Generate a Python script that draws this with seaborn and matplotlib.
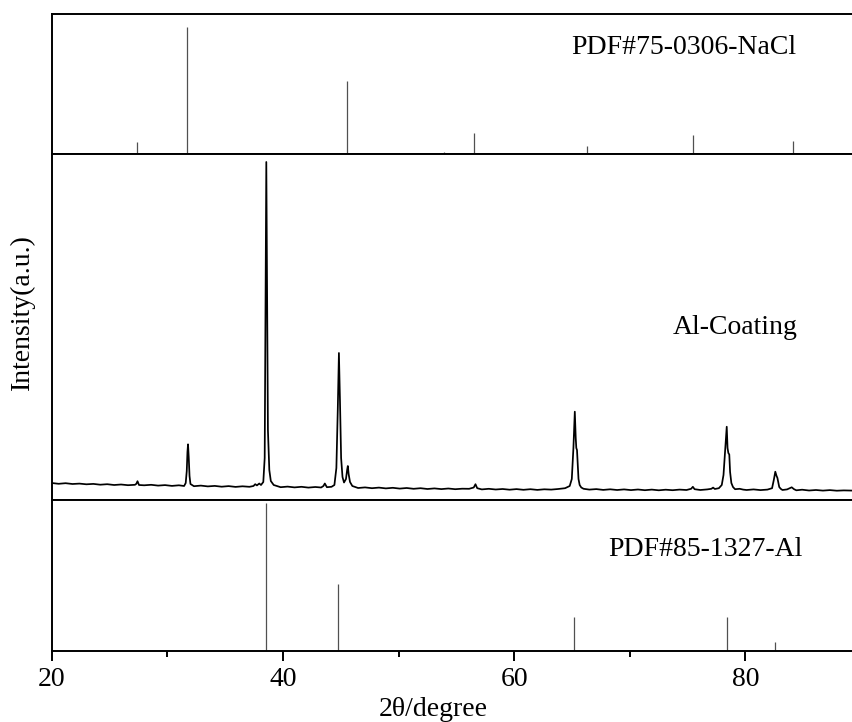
import numpy as np
import pandas as pd
import matplotlib
matplotlib.use('Agg')
import matplotlib.pyplot as plt
import seaborn as sns

# Padrao PDF#75-0306 (NaCl): posicao 2theta e intensidade relativa
nacl_pos = [27.38, 31.73, 45.50, 53.92, 56.52, 66.29, 75.43, 84.10]
nacl_int = [9.4, 100.0, 57.5, 1.6, 16.5, 6.3, 15.0, 10.2]

# Padrao PDF#85-1327 (Al)
al_pos = [38.50, 44.78, 65.20, 78.37, 82.57]
al_int = [100.0, 45.0, 23.0, 23.0, 6.2]

# Difratograma do revestimento de Al (2theta, intensidade)
scan_pts = [
    (20.0, 170), (20.6, 162), (21.2, 168), (21.8, 160), (22.4, 164), (23.0, 157),
    (23.6, 161), (24.2, 153), (24.8, 158), (25.4, 150), (26.0, 155), (26.6, 148),
    (27.2, 152), (27.32, 162), (27.42, 188), (27.55, 150), (28.0, 147), (28.6, 152),
    (29.2, 144), (29.8, 149), (30.4, 141), (31.0, 147), (31.45, 140),
    (31.59, 170), (31.68, 290), (31.74, 480), (31.79, 557), (31.85, 430),
    (31.92, 240), (32.0, 160), (32.3, 138), (32.9, 144), (33.5, 136), (34.1, 141),
    (34.7, 133), (35.3, 139), (35.9, 131), (36.5, 137), (37.1, 132), (37.45, 140),
    (37.6, 158), (37.75, 146), (37.95, 165), (38.1, 150), (38.3, 180),
    (38.42, 420), (38.50, 2100), (38.56, 3380), (38.62, 2300), (38.70, 700),
    (38.82, 300), (38.95, 190), (39.2, 150), (39.8, 128), (40.4, 134),
    (41.0, 126), (41.6, 132), (42.2, 124), (42.8, 130), (43.3, 125), (43.5, 140),
    (43.62, 165), (43.8, 128), (44.2, 132), (44.45, 150), (44.62, 320),
    (44.74, 900), (44.84, 1470), (44.93, 1000), (45.03, 420), (45.15, 230),
    (45.28, 175), (45.45, 210), (45.55, 300), (45.61, 340), (45.68, 260),
    (45.8, 180), (46.0, 140), (46.5, 120), (47.1, 126), (47.7, 118), (48.3, 124),
    (48.9, 116), (49.5, 122), (50.1, 114), (50.7, 120), (51.3, 112), (51.9, 118),
    (52.5, 110), (53.1, 116), (53.7, 109), (54.3, 115), (54.9, 108), (55.5, 113),
    (56.1, 112), (56.5, 125), (56.65, 158), (56.8, 118), (57.2, 106), (57.8, 112),
    (58.4, 105), (59.0, 110), (59.6, 103), (60.2, 109), (60.8, 102), (61.4, 108),
    (62.0, 101), (62.6, 107), (63.2, 104), (63.8, 110), (64.4, 118), (64.8, 140),
    (64.98, 210), (65.12, 520), (65.24, 883), (65.32, 620), (65.37, 520),
    (65.43, 500), (65.49, 360), (65.56, 210), (65.66, 150), (65.8, 125),
    (66.0, 112), (66.5, 104), (67.1, 109), (67.7, 101), (68.3, 107), (68.9, 100),
    (69.5, 106), (70.1, 99), (70.7, 105), (71.3, 98), (71.9, 104), (72.5, 97),
    (73.1, 103), (73.7, 98), (74.3, 104), (74.9, 100), (75.3, 112), (75.45, 132),
    (75.6, 108), (76.1, 100), (76.7, 106), (77.05, 112), (77.2, 124),
    (77.35, 110), (77.7, 118), (77.95, 150), (78.1, 250), (78.28, 560),
    (78.38, 733), (78.45, 520), (78.52, 470), (78.6, 455), (78.67, 280),
    (78.78, 170), (78.92, 130), (79.1, 108), (79.5, 112), (79.8, 104),
    (80.1, 100), (80.7, 106), (81.3, 99), (81.9, 104), (82.3, 118),
    (82.45, 200), (82.58, 283), (82.69, 240), (82.76, 222), (82.83, 180),
    (82.92, 130), (83.05, 112), (83.2, 100), (83.6, 106), (84.0, 127),
    (84.2, 108), (84.4, 97), (84.9, 103), (85.5, 95), (86.1, 100), (86.7, 94),
    (87.3, 99), (87.9, 93), (88.5, 96), (89.3, 94),
]

df_scan = pd.DataFrame(scan_pts, columns=['2theta', 'intensidade'])

sns.set_theme(style='ticks')
plt.rcParams['font.family'] = ['Liberation Serif', 'DejaVu Serif']
plt.rcParams['text.color'] = 'black'
plt.rcParams['axes.labelcolor'] = 'black'
plt.rcParams['xtick.color'] = 'black'
plt.rcParams['xtick.labelcolor'] = 'black'

W, H = 853, 722
fig = plt.figure(figsize=(W / 100, H / 100), dpi=100)

left = 51.7 / W
# limites verticais de cada painel em pixels (de cima)
paineis = [(14, 154), (154, 500), (500, 651)]
axs = []
for top_px, bot_px in paineis:
    ax = fig.add_axes([left, 1 - bot_px / H, 1 - left, (bot_px - top_px) / H])
    axs.append(ax)
ax_top, ax_mid, ax_bot = axs

stick_color = '#505050'
ax_top.vlines(nacl_pos, 0, nacl_int, color=stick_color, lw=0.9)
ax_top.set_ylim(0, 110.2)

sns.lineplot(data=df_scan, x='2theta', y='intensidade', ax=ax_mid,
             color='black', lw=1.25, sort=False)
ax_mid.set_ylim(0, 3460)

ax_bot.vlines(al_pos, 0, al_int, color=stick_color, lw=0.9)
ax_bot.set_ylim(0, 102)

for ax in axs:
    ax.set_xlim(20, 89.3)
    ax.spines['right'].set_visible(False)
    for s in ['left', 'top', 'bottom']:
        ax.spines[s].set_linewidth(1.4)
        ax.spines[s].set_color('black')
    ax.set_yticks([])
    ax.set_ylabel('')
    ax.set_xlabel('')

for ax in [ax_top, ax_mid]:
    ax.set_xticks([])

ax_bot.set_xticks([20, 40, 60, 80])
ax_bot.set_xticks([30, 50, 70], minor=True)
ax_bot.tick_params(axis='x', which='major', length=7.5, width=1.4,
                   direction='out', labelsize=20, pad=4, color='black',
                   labelcolor='black')
ax_bot.tick_params(axis='x', which='minor', length=4, width=1.4,
                   direction='out', color='black')
ax_bot.set_xlabel('2θ/degree', fontsize=20, color='black')
ax_bot.xaxis.set_label_coords(0.476, -0.305)

fig.text(22 / W, 1 - 312 / H, 'Intensity(a.u.)', rotation=90,
         ha='center', va='center', fontsize=20, color='black')

# legendas de cada painel
fig.text(684 / W, 1 - 47 / H, 'PDF#75-0306-NaCl', ha='center', va='center',
         fontsize=20, color='black')
fig.text(735 / W, 1 - 327 / H, 'Al-Coating', ha='center', va='center',
         fontsize=20, color='black')
fig.text(705 / W, 1 - 550 / H, 'PDF#85-1327-Al', ha='center', va='center',
         fontsize=20, color='black')

fig.savefig('out.png', dpi=100, facecolor='white')
